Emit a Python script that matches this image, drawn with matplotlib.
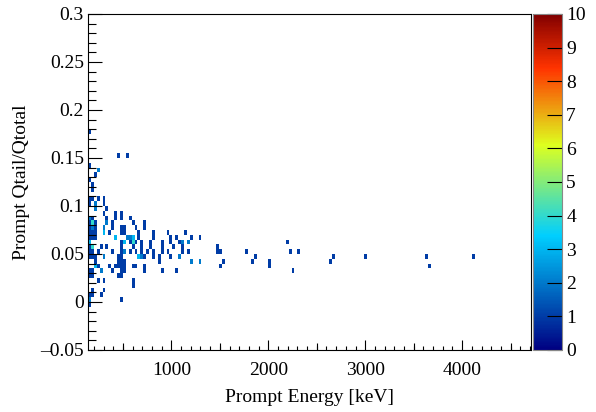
import numpy as np
import matplotlib
matplotlib.use("Agg")
import matplotlib.pyplot as plt
from matplotlib.colors import LinearSegmentedColormap, Normalize
from matplotlib.ticker import FixedLocator, FuncFormatter

plt.rcParams['font.family'] = ['Liberation Serif', 'DejaVu Serif']

# histogram binning (keV, ratio)
e_edges = np.arange(140, 4741, 30)
r_edges = np.arange(-0.05, 0.3001, 0.005)

# one entry per ratio row: bin centre, energies of filled bins, contents
ratio_rows = [0.1775, 0.1525, 0.1425, 0.1375, 0.1325, 0.1275, 0.1225, 0.1175,
              0.1075, 0.1025, 0.0975, 0.0925, 0.0875, 0.0825, 0.0775, 0.0725,
              0.0675, 0.0625, 0.0575, 0.0525, 0.0475, 0.0425, 0.0375, 0.0325,
              0.0275, 0.0225, 0.0175, 0.0125, 0.0075, 0.0025, -0.0025]

energy_rows = [
    [155],
    [455, 545],
    [155],
    [245],
    [215],
    [155],
    [185],
    [185],
    [155, 185, 245, 305],
    [155, 215, 305],
    [215, 335],
    [305, 425, 485],
    [155, 185, 335, 425, 485, 575],
    [155, 185, 215, 335, 395, 605, 725],
    [155, 185, 215, 305, 395, 485, 515, 635, 725],
    [155, 185, 215, 305, 365, 485, 515, 665, 815, 965, 1145],
    [155, 185, 215, 425, 545, 575, 605, 665, 815, 995, 1055, 1205, 1295],
    [155, 485, 515, 575, 605, 635, 695, 785, 905, 995, 1085, 1115, 1175, 2195],
    [155, 185, 275, 335, 485, 605, 695, 785, 905, 1025, 1115, 1475],
    [155, 185, 245, 395, 485, 515, 575, 635, 695, 755, 815, 905, 965, 1115,
     1175, 1475, 1505, 1775, 2225, 2315],
    [155, 185, 215, 305, 455, 485, 665, 695, 725, 815, 875, 995, 1085, 1865,
     2675, 3005, 3635, 4115],
    [215, 455, 485, 515, 875, 1205, 1295, 1535, 1835, 2015, 2645],
    [215, 245, 365, 425, 455, 485, 515, 605, 635, 725, 1505, 2015, 3665],
    [155, 185, 275, 395, 485, 515, 725, 905, 1055, 2255],
    [155, 185, 455, 485],
    [245, 305, 605],
    [605],
    [185, 305],
    [155, 185, 275],
    [155, 485],
    [155],
]

count_rows = [
    [1],
    [1, 1],
    [1],
    [2],
    [1],
    [1],
    [1],
    [1],
    [1, 1, 1, 1],
    [1, 2, 1],
    [2, 1],
    [1, 1, 1],
    [2, 1, 1, 1, 1, 1],
    [1, 4, 1, 2, 1, 1, 1],
    [1, 2, 1, 2, 1, 1, 1, 1, 1],
    [1, 1, 1, 3, 1, 1, 1, 1, 1, 1, 1],
    [1, 1, 1, 3, 2, 2, 3, 1, 1, 1, 1, 1, 1],
    [3, 1, 3, 1, 4, 1, 1, 1, 1, 1, 1, 2, 2, 1],
    [1, 4, 1, 1, 1, 1, 1, 1, 1, 1, 1, 1],
    [1, 1, 1, 1, 1, 2, 1, 1, 1, 1, 1, 1, 1, 1, 1, 1, 1, 1, 1, 1],
    [1, 1, 1, 2, 1, 1, 3, 2, 1, 1, 1, 1, 2, 1, 1, 1, 1, 1],
    [1, 1, 1, 1, 1, 2, 2, 1, 1, 1, 1],
    [3, 1, 1, 1, 1, 1, 1, 1, 1, 1, 1, 1, 1],
    [1, 1, 2, 1, 1, 1, 1, 1, 1, 1],
    [1, 1, 1, 1],
    [1, 1, 1],
    [1],
    [1, 1],
    [1, 1, 1],
    [2, 1],
    [1],
]

energy = []
ratio = []
weight = []
for r, es, cs in zip(ratio_rows, energy_rows, count_rows):
    for e, c in zip(es, cs):
        energy.append(e)
        ratio.append(r)
        weight.append(c)

H, xe, ye = np.histogram2d(energy, ratio, bins=[e_edges, r_edges], weights=weight)
H = np.ma.masked_equal(H.T, 0)

# ROOT style gradient palette
stops = [0.00, 0.34, 0.61, 0.84, 1.00]
red = [0.00, 0.00, 0.87, 1.00, 0.51]
green = [0.00, 0.81, 1.00, 0.20, 0.00]
blue = [0.51, 1.00, 0.12, 0.00, 0.00]
cmap = LinearSegmentedColormap.from_list(
    "root", list(zip(stops, zip(red, green, blue))), N=255)


def fmt_ratio(v, pos):
    s = "%g" % round(abs(v), 3)
    return "\u2013" + s if v < -1e-9 else s


fig = plt.figure(figsize=(5.96, 4.12), dpi=100)
ax = fig.add_axes([88 / 596, 62 / 412, 443 / 596, 336 / 412])
cax = fig.add_axes([533 / 596, 62 / 412, 29 / 596, 336 / 412])

mesh = ax.pcolormesh(xe, ye, H, cmap=cmap, norm=Normalize(0, 10))

ax.set_xlim(140, 4710)
ax.set_ylim(-0.05, 0.3)

ax.xaxis.set_major_locator(FixedLocator([1000, 2000, 3000, 4000]))
ax.xaxis.set_minor_locator(FixedLocator([x for x in range(200, 4701, 100) if x % 1000]))
ax.yaxis.set_major_locator(FixedLocator(np.arange(-0.05, 0.301, 0.05)))
ax.yaxis.set_minor_locator(FixedLocator(np.arange(-0.05, 0.301, 0.01)))
ax.yaxis.set_major_formatter(FuncFormatter(fmt_ratio))

ax.tick_params(axis='x', which='major', direction='in', length=7.2, width=0.8,
               labelsize=14, pad=8.5)
ax.tick_params(axis='x', which='minor', direction='in', length=3.2, width=0.8)
ax.tick_params(axis='y', which='major', direction='in', length=10, width=0.8,
               labelsize=14, pad=3)
ax.tick_params(axis='y', which='minor', direction='in', length=5.4, width=0.8)

# medium ticks every 500 keV
sec = ax.secondary_xaxis('bottom')
sec.set_xticks([500, 1500, 2500, 3500, 4500])
sec.tick_params(direction='in', length=5, width=0.8, labelbottom=False)
sec.spines['bottom'].set_visible(False)

for s in ax.spines.values():
    s.set_linewidth(0.8)

ax.set_xlabel("Prompt Energy [keV]", fontsize=14)
ax.set_ylabel("Prompt Qtail/Qtotal", fontsize=14)
ax.xaxis.set_label_coords(0.5, -0.115)
ax.yaxis.set_label_coords(-0.13, 0.5)

cb = fig.colorbar(mesh, cax=cax, ticks=range(0, 11))
cb.outline.set_edgecolor('#888888')
cb.outline.set_linewidth(0.8)
cax.tick_params(direction='in', length=11, width=0.8, labelsize=14, pad=3)

fig.savefig("out.png", dpi=100)
